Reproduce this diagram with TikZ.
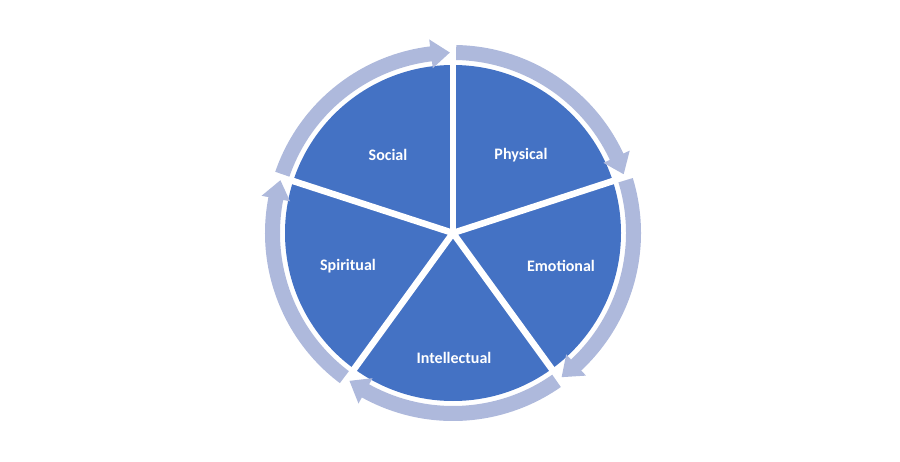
\documentclass[tikz,border=0pt]{standalone}
\usepackage{fontspec}
\setmainfont{Carlito}
\definecolor{pie}{HTML}{4472C4}
\definecolor{ring}{HTML}{AEB9DC}
\begin{document}
\begin{tikzpicture}[x=1pt,y=-1pt,
  lbl/.style={text=white,font=\bfseries\fontsize{16}{18}\selectfont}]
\useasboundingbox (0,0) rectangle (900,462);
\coordinate (c) at (453,233);
\begin{scope}[shift={(c)},y=1pt]
  \fill[pie] (0,0) circle (168);
  \foreach \a in {90,18,-54,-126,162}
    \draw[white,line width=6.5pt] (0,0) -- (\a:170);
  \foreach \k in {0,...,4}{
    \pgfmathsetmacro{\ta}{90-72*\k-1}
    \pgfmathsetmacro{\tb}{\ta-70}
    \pgfmathsetmacro{\th}{\tb+6}
    \fill[ring] (\ta:188) arc[start angle=\ta,end angle=\th,radius=188]
      -- (\th:195) -- (\tb:180.5) -- (\th:166) -- (\th:173)
      arc[start angle=\th,end angle=\ta,radius=173] -- cycle;
  }
\end{scope}
\node[lbl] (social) at (388,155) {Social};
\node[lbl] (physical) at (521,155) {Physical};
\node[lbl] (emotional) at (561,266) {Emotional};
\node[lbl] (intellectual) at (454,358) {Intellectual};
\node[lbl] (spiritual) at (348,266) {Spiritual};
\end{tikzpicture}
\end{document}
